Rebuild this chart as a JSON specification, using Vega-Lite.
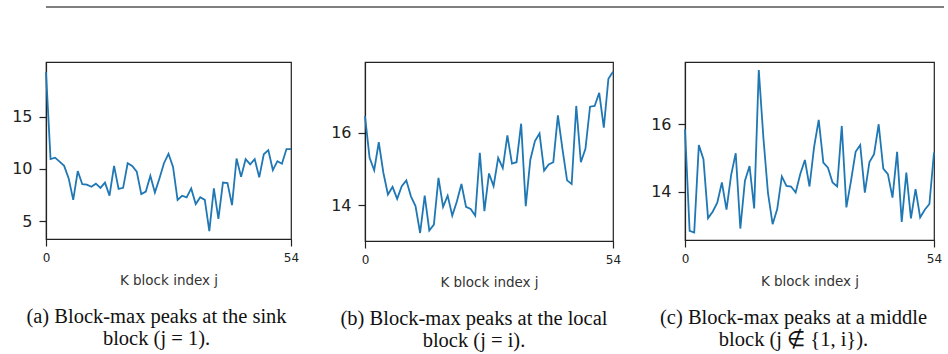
{
  "$schema": "https://vega.github.io/schema/vega-lite/v6.json",
  "padding": {"left": 5, "top": 6, "right": 5, "bottom": 0},
  "background": "white",
  "datasets": {
    "separator": [{"level": 0}],
    "sink": [
      {"j": 0, "peak": 19.24}, {"j": 1, "peak": 10.95}, {"j": 2, "peak": 11.08}, {"j": 3, "peak": 10.7}, {"j": 4, "peak": 10.3},
      {"j": 5, "peak": 9.1}, {"j": 6, "peak": 7.05}, {"j": 7, "peak": 9.8}, {"j": 8, "peak": 8.55}, {"j": 9, "peak": 8.5},
      {"j": 10, "peak": 8.3}, {"j": 11, "peak": 8.6}, {"j": 12, "peak": 8.2}, {"j": 13, "peak": 8.7}, {"j": 14, "peak": 7.45},
      {"j": 15, "peak": 10.3}, {"j": 16, "peak": 8.1}, {"j": 17, "peak": 8.2}, {"j": 18, "peak": 10.55}, {"j": 19, "peak": 10.3},
      {"j": 20, "peak": 9.75}, {"j": 21, "peak": 7.6}, {"j": 22, "peak": 7.85}, {"j": 23, "peak": 9.35}, {"j": 24, "peak": 7.75},
      {"j": 25, "peak": 9.1}, {"j": 26, "peak": 10.55}, {"j": 27, "peak": 11.45}, {"j": 28, "peak": 10.2}, {"j": 29, "peak": 7.05},
      {"j": 30, "peak": 7.45}, {"j": 31, "peak": 7.3}, {"j": 32, "peak": 8.15}, {"j": 33, "peak": 6.65}, {"j": 34, "peak": 7.3},
      {"j": 35, "peak": 7.05}, {"j": 36, "peak": 4.08}, {"j": 37, "peak": 8.15}, {"j": 38, "peak": 5.25}, {"j": 39, "peak": 8.7},
      {"j": 40, "peak": 8.65}, {"j": 41, "peak": 6.55}, {"j": 42, "peak": 11.0}, {"j": 43, "peak": 9.25}, {"j": 44, "peak": 10.95},
      {"j": 45, "peak": 10.45}, {"j": 46, "peak": 10.95}, {"j": 47, "peak": 9.2}, {"j": 48, "peak": 11.4}, {"j": 49, "peak": 11.8},
      {"j": 50, "peak": 9.9}, {"j": 51, "peak": 10.75}, {"j": 52, "peak": 10.5}, {"j": 53, "peak": 11.9}, {"j": 54, "peak": 11.9}
    ],
    "local": [
      {"j": 0, "peak": 16.46}, {"j": 1, "peak": 15.31}, {"j": 2, "peak": 14.97}, {"j": 3, "peak": 15.74}, {"j": 4, "peak": 14.9},
      {"j": 5, "peak": 14.3}, {"j": 6, "peak": 14.51}, {"j": 7, "peak": 14.18}, {"j": 8, "peak": 14.53}, {"j": 9, "peak": 14.69},
      {"j": 10, "peak": 14.25}, {"j": 11, "peak": 13.98}, {"j": 12, "peak": 13.24}, {"j": 13, "peak": 14.27}, {"j": 14, "peak": 13.31},
      {"j": 15, "peak": 13.47}, {"j": 16, "peak": 14.76}, {"j": 17, "peak": 13.96}, {"j": 18, "peak": 14.27}, {"j": 19, "peak": 13.72},
      {"j": 20, "peak": 14.11}, {"j": 21, "peak": 14.59}, {"j": 22, "peak": 13.96}, {"j": 23, "peak": 13.9}, {"j": 24, "peak": 13.72},
      {"j": 25, "peak": 15.45}, {"j": 26, "peak": 13.84}, {"j": 27, "peak": 14.88}, {"j": 28, "peak": 14.53}, {"j": 29, "peak": 15.31},
      {"j": 30, "peak": 15.03}, {"j": 31, "peak": 15.93}, {"j": 32, "peak": 15.15}, {"j": 33, "peak": 15.19}, {"j": 34, "peak": 16.25},
      {"j": 35, "peak": 13.98}, {"j": 36, "peak": 15.26}, {"j": 37, "peak": 15.77}, {"j": 38, "peak": 15.98}, {"j": 39, "peak": 14.96},
      {"j": 40, "peak": 15.13}, {"j": 41, "peak": 15.19}, {"j": 42, "peak": 16.48}, {"j": 43, "peak": 15.55}, {"j": 44, "peak": 14.69},
      {"j": 45, "peak": 14.59}, {"j": 46, "peak": 16.74}, {"j": 47, "peak": 15.19}, {"j": 48, "peak": 15.56}, {"j": 49, "peak": 16.72},
      {"j": 50, "peak": 16.74}, {"j": 51, "peak": 17.1}, {"j": 52, "peak": 16.14}, {"j": 53, "peak": 17.49}, {"j": 54, "peak": 17.68}
    ],
    "middle": [
      {"j": 0, "peak": 15.85}, {"j": 1, "peak": 12.83}, {"j": 2, "peak": 12.78}, {"j": 3, "peak": 15.38}, {"j": 4, "peak": 14.96},
      {"j": 5, "peak": 13.21}, {"j": 6, "peak": 13.4}, {"j": 7, "peak": 13.67}, {"j": 8, "peak": 14.27}, {"j": 9, "peak": 13.46},
      {"j": 10, "peak": 14.49}, {"j": 11, "peak": 15.14}, {"j": 12, "peak": 12.9}, {"j": 13, "peak": 14.32}, {"j": 14, "peak": 14.76},
      {"j": 15, "peak": 13.5}, {"j": 16, "peak": 17.61}, {"j": 17, "peak": 15.6}, {"j": 18, "peak": 13.95}, {"j": 19, "peak": 13.03},
      {"j": 20, "peak": 13.48}, {"j": 21, "peak": 14.45}, {"j": 22, "peak": 14.17}, {"j": 23, "peak": 14.15}, {"j": 24, "peak": 13.97},
      {"j": 25, "peak": 14.52}, {"j": 26, "peak": 14.94}, {"j": 27, "peak": 14.15}, {"j": 28, "peak": 15.33}, {"j": 29, "peak": 16.13},
      {"j": 30, "peak": 14.86}, {"j": 31, "peak": 14.71}, {"j": 32, "peak": 14.27}, {"j": 33, "peak": 14.15}, {"j": 34, "peak": 15.95},
      {"j": 35, "peak": 13.53}, {"j": 36, "peak": 14.32}, {"j": 37, "peak": 15.18}, {"j": 38, "peak": 15.38}, {"j": 39, "peak": 13.97},
      {"j": 40, "peak": 14.88}, {"j": 41, "peak": 15.11}, {"j": 42, "peak": 16.0}, {"j": 43, "peak": 14.68}, {"j": 44, "peak": 14.52},
      {"j": 45, "peak": 13.82}, {"j": 46, "peak": 15.18}, {"j": 47, "peak": 13.1}, {"j": 48, "peak": 14.56}, {"j": 49, "peak": 13.2},
      {"j": 50, "peak": 14.07}, {"j": 51, "peak": 13.23}, {"j": 52, "peak": 13.46}, {"j": 53, "peak": 13.63}, {"j": 54, "peak": 15.16}
    ]
  },
  "spacing": 53,
  "vconcat": [
    {
      "data": {"name": "separator"},
      "width": 898,
      "height": 1,
      "view": {"stroke": null},
      "mark": {"type": "rule", "color": "#808080", "strokeWidth": 2},
      "encoding": {
        "y": {"field": "level", "type": "quantitative", "scale": {"domain": [0, 1]}, "axis": null}
      }
    },
    {
      "columns": 3,
      "align": "none",
      "spacing": 27,
      "concat": [
        {
          "data": {"name": "sink"},
          "width": 245,
          "height": 177,
          "title": {"text": ["(a) Block-max peaks at the sink", "block (j = 1)."], "dx": -12},
          "mark": {"type": "line", "color": "#1f77b4", "strokeWidth": 1.8},
          "encoding": {
            "x": {"field": "j", "type": "quantitative", "scale": {"domain": [0, 54], "nice": false}, "axis": {"values": [0, 54], "title": "K block index j"}},
            "y": {"field": "peak", "type": "quantitative", "scale": {"domain": [3.32, 20.21], "nice": false, "zero": false}, "axis": {"values": [5, 10, 15], "title": null, "minExtent": 39.7}}
          }
        },
        {
          "data": {"name": "local"},
          "width": 248,
          "height": 179,
          "title": {"text": ["(b) Block-max peaks at the local", "block (j = i)."], "dx": -15},
          "mark": {"type": "line", "color": "#1f77b4", "strokeWidth": 1.8},
          "encoding": {
            "x": {"field": "j", "type": "quantitative", "scale": {"domain": [0, 54], "nice": false}, "axis": {"values": [0, 54], "title": "K block index j"}},
            "y": {"field": "peak", "type": "quantitative", "scale": {"domain": [13.02, 17.95], "nice": false, "zero": false}, "axis": {"values": [14, 16], "title": null, "minExtent": 37.4}}
          }
        },
        {
          "data": {"name": "middle"},
          "width": 249,
          "height": 178,
          "title": {"text": ["(c) Block-max peaks at a middle", "block (j ∉ {1, i})."], "dx": -16},
          "mark": {"type": "line", "color": "#1f77b4", "strokeWidth": 1.8},
          "encoding": {
            "x": {"field": "j", "type": "quantitative", "scale": {"domain": [0, 54], "nice": false}, "axis": {"values": [0, 54], "title": "K block index j"}},
            "y": {"field": "peak", "type": "quantitative", "scale": {"domain": [12.56, 17.85], "nice": false, "zero": false}, "axis": {"values": [14, 16], "title": null, "minExtent": 35.4}}
          }
        }
      ]
    }
  ],
  "config": {
    "font": "DejaVu Sans",
    "view": {"stroke": "#222222", "strokeWidth": 1.2},
    "axis": {
      "grid": false,
      "domainColor": "#222222",
      "domainWidth": 1.2,
      "tickColor": "#222222",
      "tickWidth": 1.2,
      "tickSize": 7,
      "labelColor": "#222222",
      "labelFont": "DejaVu Sans",
      "labelFlush": false,
      "titleFont": "DejaVu Sans",
      "titleColor": "#333333",
      "titleFontWeight": "normal"
    },
    "axisX": {"labelFontSize": 12, "labelPadding": 6, "labelAngle": 0, "titleFontSize": 13.5, "titlePadding": 10},
    "axisY": {"labelFontSize": 16, "labelPadding": 7},
    "title": {
      "orient": "bottom",
      "anchor": "middle",
      "frame": "group",
      "font": "Liberation Serif",
      "fontSize": 20.5,
      "fontWeight": "normal",
      "color": "#111111",
      "lineHeight": 22.3,
      "offset": 20
    }
  }
}
